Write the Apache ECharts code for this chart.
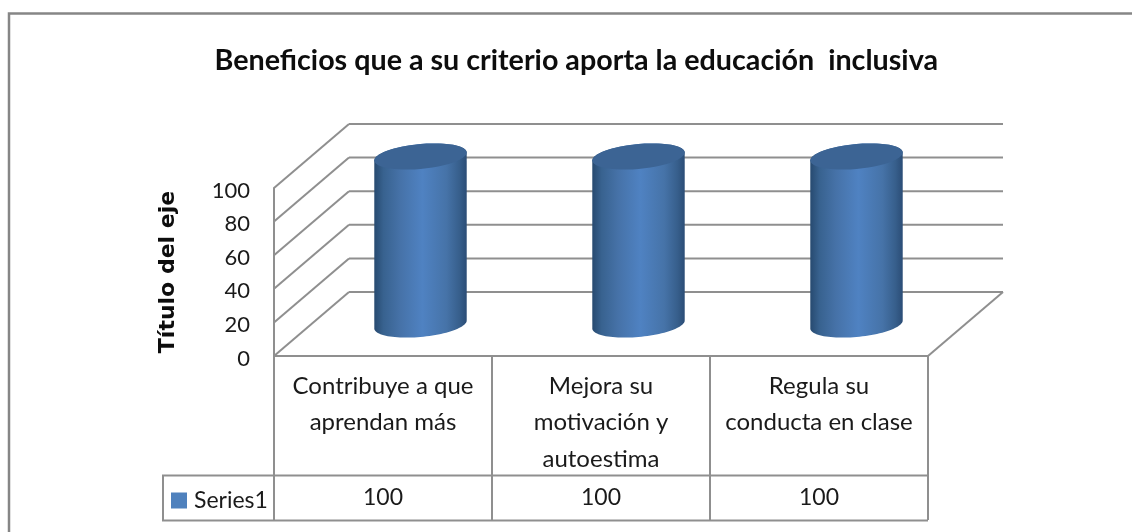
<!DOCTYPE html>
<html><head><meta charset="utf-8">
<style>html,body{margin:0;padding:0;background:#fff}#c{width:1132px;height:532px}</style>
<script src="https://cdn.jsdelivr.net/npm/echarts@6/dist/echarts.min.js"></script>
</head><body><div id="c"></div>
<script>
const chartTitle = 'Beneficios que a su criterio aporta la educación  inclusiva';
const axisTitle = 'Título del eje';
const seriesName = 'Series1';
const categories = ['Contribuye a que\naprendan más', 'Mejora su\nmotivación y\nautoestima', 'Regula su\nconducta en clase'];
const values = [100, 100, 100];
const yTicks = [0, 20, 40, 60, 80, 100];

const DEPTH_X = 75, DEPTH_Y = -64;
const LINE = '#8f8f8f', FONT = 'Lato', TEXT = '#1a1a1a';

const chart = echarts.init(document.getElementById('c'), null, {renderer: 'canvas'});

function renderWalls(params, api) {
  const v = api.value(0);
  const cs = params.coordSys;
  const y = api.coord([0, v])[1];
  const x0 = cs.x, x1 = cs.x + cs.width;
  const style = {stroke: LINE, lineWidth: 2, fill: null};
  const children = [
    {type: 'line', shape: {x1: x0, y1: y, x2: x0 + DEPTH_X, y2: y + DEPTH_Y}, style},
    {type: 'line', shape: {x1: x0 + DEPTH_X, y1: y + DEPTH_Y, x2: x1 + DEPTH_X, y2: y + DEPTH_Y}, style}
  ];
  if (v === 0) children.push({type: 'line', shape: {x1: x1, y1: y, x2: x1 + DEPTH_X, y2: y + DEPTH_Y}, style});
  return {type: 'group', children};
}

function ellipsePts(cx, cy, rx, ry, tilt, from, to) {
  const pts = [], n = 48;
  for (let i = 0; i <= n; i++) {
    const t = from + (to - from) * i / n;
    pts.push([cx + rx * Math.cos(t), cy + ry * Math.sin(t) + tilt * Math.cos(t)]);
  }
  return pts;
}

function renderCylinder(params, api) {
  const base = api.coord([api.value(0), 0]);
  const top = api.coord([api.value(0), api.value(1)]);
  const band = api.size([1, 0])[0];
  const rx = band * 0.212, ry = 12.5, tilt = -4;
  const cx = base[0] + DEPTH_X / 2;
  const yb = base[1] + DEPTH_Y / 2 + 0.5, yt = top[1] + DEPTH_Y / 2 + 0.5;
  const body = [].concat(
    ellipsePts(cx, yb, rx, ry, tilt, 0, Math.PI),
    ellipsePts(cx, yt, rx, ry, tilt, Math.PI, 2 * Math.PI)
  );
  const grad = new echarts.graphic.LinearGradient(0, 0, 1, 0, [
    {offset: 0, color: '#274A70'}, {offset: 0.1, color: '#38628F'},
    {offset: 0.28, color: '#4672A8'}, {offset: 0.52, color: '#4F82C2'},
    {offset: 0.78, color: '#4673A8'}, {offset: 0.92, color: '#375F8C'},
    {offset: 1, color: '#2B4D76'}
  ]);
  return {type: 'group', children: [
    {type: 'polygon', shape: {points: body}, style: {fill: grad}},
    {type: 'polygon', shape: {points: ellipsePts(cx, yt, rx, ry, tilt, 0, 2 * Math.PI)}, style: {fill: '#3C6494'}}
  ]};
}

function renderTableValue(params, api) {
  const p = api.coord([api.value(0), 0]);
  return {type: 'text', x: p[0], y: 498, style: {
    text: String(api.value(1)), fill: TEXT, font: '23px ' + FONT, align: 'center', verticalAlign: 'middle'
  }};
}

chart.setOption({
  animation: false,
  backgroundColor: '#fff',
  title: {text: chartTitle, left: 209.5, top: 41, textStyle: {fontFamily: FONT, fontWeight: 'bold', fontSize: 28.7, color: '#0d0d0d'}},
  legend: {data: [seriesName], left: 166, top: 484, icon: 'rect', itemWidth: 16, itemHeight: 16, itemGap: 0,
    textStyle: {fontFamily: FONT, fontSize: 23, color: TEXT, padding: [0, 0, 0, 2]}},
  grid: {left: 274, right: 204, top: 188, bottom: 176, containLabel: false},
  xAxis: {type: 'category', data: categories,
    axisLine: {lineStyle: {color: LINE, width: 2}},
    axisTick: {show: true, length: 164, lineStyle: {color: LINE, width: 2}},
    axisLabel: {fontFamily: FONT, fontSize: 24, color: TEXT, lineHeight: 36.5, margin: 12, verticalAlign: 'top', align: 'center', interval: 0},
    splitLine: {show: false}},
  yAxis: {type: 'value', min: 0, max: 100, interval: 20, name: axisTitle, nameLocation: 'middle', nameGap: 95, nameRotate: 90,
    nameTextStyle: {fontFamily: 'DejaVu Sans', fontWeight: 'bold', fontSize: 22, color: '#0d0d0d'},
    axisLine: {show: true, lineStyle: {color: LINE, width: 2}},
    axisTick: {show: false}, splitLine: {show: false},
    axisLabel: {margin: 24, formatter: '{t|{value}}',
      rich: {t: {fontFamily: FONT, fontSize: 22, color: TEXT, padding: [5, 0, 0, 0]}}}},
  graphic: [
    {type: 'polyline', z: 0, shape: {points: [[9, 540], [9, 13.5], [1140, 13.5]]}, style: {stroke: '#868686', lineWidth: 2.5, fill: null}},
    {type: 'polyline', z: 0, shape: {points: [[928, 475.5], [163, 475.5], [163, 520.5], [928, 520.5]]}, style: {stroke: LINE, lineWidth: 2, fill: null}}
  ],
  series: [
    {type: 'custom', name: 'walls', z: 1, silent: true, renderItem: renderWalls, data: yTicks.map(v => [v]), encode: {y: 0}, clip: false, legendHoverLink: false},
    {type: 'custom', name: seriesName, z: 3, itemStyle: {color: '#4F81BD'}, renderItem: renderCylinder,
      data: values.map((v, i) => [i, v]), encode: {x: 0, y: 1}, clip: false},
    {type: 'custom', name: 'table', z: 4, silent: true, renderItem: renderTableValue,
      data: values.map((v, i) => [i, v]), encode: {x: 0, y: 1}, clip: false}
  ]
});
</script></body></html>
